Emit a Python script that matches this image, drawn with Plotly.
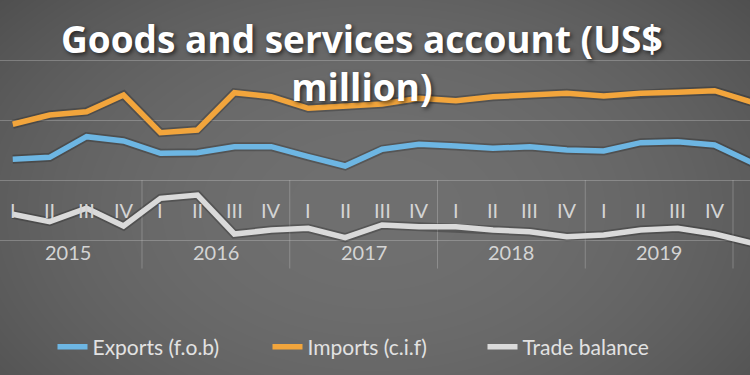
import base64, struct, zlib
import numpy as np
import plotly.graph_objects as go

# ---------------- data ----------------
quarters = ["I", "II", "III", "IV"] * 5 + ["I", "II"]
years = ["2015", "2016", "2017", "2018", "2019", "2020"]
quarters_per_year = [4, 4, 4, 4, 4, 2]

exports = [690, 756, 1444, 1300, 890, 910, 1110, 1110, 776, 466, 1024, 1190,
           1134, 1056, 1110, 1000, 966, 1244, 1276, 1166, 584, 500]
imports = [1857, 2167, 2277, 2833, 1577, 1667, 2910, 2777, 2390, 2443, 2533, 2723,
           2643, 2777, 2833, 2890, 2800, 2890, 2923, 2977, 2600, 2500]
trade_balance = [-1143, -1390, -943, -1533, -610, -500, -1800, -1667, -1610, -1923,
                 -1500, -1557, -1557, -1667, -1723, -1890, -1833, -1667, -1610, -1800,
                 -2100, -2000]

title_text = "Goods and services account (US$<br>million)"
series_names = ["Exports (f.o.b)", "Imports (c.i.f)", "Trade balance"]
series_colors = ["#6DB6E3", "#F2A53C", "#DADADA"]

# ---------------- background gradient image ----------------
W, H = 750, 375
yy, xx = np.mgrid[0:H, 0:W]
r = np.sqrt(((xx - 375) / 460.0) ** 2 + ((yy - 210) / 300.0) ** 2)
val = np.clip(84 + 28 * (1 - r ** 2), 70, 120).astype(np.uint8)
raw = b"".join(b"\x00" + val[i].tobytes() for i in range(H))
def chunk(t, d):
    c = struct.pack(">I", len(d)) + t + d
    return c + struct.pack(">I", zlib.crc32(t + d) & 0xffffffff)
png = b"\x89PNG\r\n\x1a\n" + chunk(b"IHDR", struct.pack(">IIBBBBB", W, H, 8, 0, 0, 0, 0)) \
      + chunk(b"IDAT", zlib.compress(raw, 9)) + chunk(b"IEND", b"")
bg_src = "data:image/png;base64," + base64.b64encode(png).decode()

x = list(range(len(quarters)))

fig = go.Figure()
# soft shadows under the lines
for vals in (exports, imports, trade_balance):
    fig.add_trace(go.Scatter(x=x, y=vals, mode="lines", showlegend=False, hoverinfo="skip",
                             line=dict(color="rgba(0,0,0,0.22)", width=9)))
for name, vals, col in zip(series_names, (exports, imports, trade_balance), series_colors):
    fig.add_trace(go.Scatter(x=x, y=vals, mode="lines", name=name,
                             line=dict(color=col, width=5.5)))

label_font = dict(family="Lato", size=20, color="#D4D4D4")
annotations = []
for i, q in enumerate(quarters):
    annotations.append(dict(x=i, y=-1000, xref="x", yref="y", text=q, showarrow=False,
                            yanchor="middle", font=label_font))
start = 0
shapes = []
for yr, n in zip(years, quarters_per_year):
    annotations.append(dict(x=start + (n - 1) / 2, y=-2400, xref="x", yref="y", text=yr,
                            showarrow=False, yanchor="middle", font=label_font))
    shapes.append(dict(type="line", xref="x", yref="y", x0=start - 0.5, x1=start - 0.5,
                       y0=0, y1=-2950, line=dict(color="rgba(200,200,200,0.35)", width=1),
                       layer="below"))
    start += n

annotations.append(dict(x=0.483, y=0.79, xref="paper", yref="paper", text=title_text,
                        showarrow=False, align="center", xanchor="center", yanchor="middle",
                        font=dict(family="Open Sans", size=37, color="white",
                                  weight="bold", shadow="2px 2px 4px rgba(0,0,0,0.6)")))

fig.update_layout(
    width=750, height=375,
    margin=dict(l=0, r=0, t=0, b=75),
    paper_bgcolor="#555555",
    plot_bgcolor="rgba(0,0,0,0)",
    images=[dict(source=bg_src, xref="paper", yref="paper", x=0, y=1, sizex=1, sizey=1.25,
                 xanchor="left", yanchor="top", sizing="stretch", layer="below")],
    xaxis=dict(range=[-0.344, 19.96], showgrid=False, zeroline=False, showticklabels=False,
               fixedrange=True),
    yaxis=dict(range=[-4000, 6000], dtick=2000, tick0=0, showticklabels=False,
               gridcolor="rgba(200,200,200,0.35)", gridwidth=1, zeroline=False, fixedrange=True),
    showlegend=True,
    legend=dict(orientation="h", x=0.5, xanchor="center", y=-0.157, yanchor="middle",
                font=dict(family="Lato", size=21, color="#E2E2E2"),
                bgcolor="rgba(0,0,0,0)", entrywidth=170, traceorder="normal"),
    annotations=annotations,
    shapes=shapes,
)
fig.write_html("out.html", config={"displayModeBar": False},
               post_script="document.body.style.margin='0';document.body.style.padding='0';")
